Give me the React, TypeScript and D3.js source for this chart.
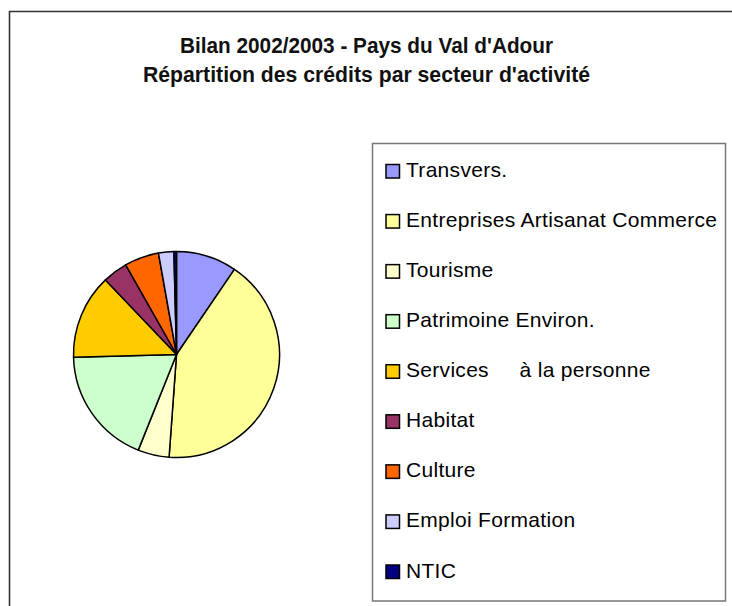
import React from "react";
import * as d3 from "d3";

const sectors = [
  "Transvers.",
  "Entreprises Artisanat Commerce",
  "Tourisme",
  "Patrimoine Environ.",
  "Services     à la personne",
  "Habitat",
  "Culture",
  "Emploi Formation",
  "NTIC",
];
const shares = [9.5, 41.6, 4.9, 18.5, 13.3, 3.9, 5.4, 2.4, 0.4];
const colors = [
  "#9999FF",
  "#FFFF99",
  "#FFFFCC",
  "#CCFFCC",
  "#FFCC00",
  "#993366",
  "#FF6600",
  "#CCCCFF",
  "#000080",
];
const titleLines = [
  "Bilan 2002/2003 - Pays du Val d'Adour",
  "Répartition des crédits par secteur d'activité",
];

const W = 732;
const H = 606;

export default function App() {
  const cx = 176.5;
  const cy = 354.5;
  const r = 103;

  const pie = d3
    .pie<number>()
    .value((d) => d)
    .sort(null);
  const arc = d3.arc<d3.PieArcDatum<number>>().innerRadius(0).outerRadius(r);
  const arcs = pie(shares);

  const rowY = d3
    .scalePoint<number>()
    .domain(d3.range(sectors.length))
    .range([171.5, 572]);

  return (
    <svg
      width={W}
      height={H}
      style={{ position: "absolute", left: 0, top: 0, background: "#fff" }}
      fontFamily="'Liberation Sans', Arial, sans-serif"
    >
      <rect x={0} y={0} width={W} height={H} fill="#fff" />
      {/* outer chart frame, cropped at right and bottom */}
      <path d={`M9.5,${H} V11.5 H${W}`} fill="none" stroke="#333" strokeWidth={1.6} />

      {titleLines.map((t, i) => (
        <text
          key={i}
          x={366.5}
          y={53 + i * 29}
          textAnchor="middle"
          fontSize={22}
          fontWeight="bold"
          fill="#111"
          textLength={i === 0 ? 373 : 447}
          lengthAdjust="spacingAndGlyphs"
        >
          {t}
        </text>
      ))}

      <g transform={`translate(${cx},${cy})`}>
        {arcs.map((a, i) => (
          <path
            key={i}
            d={arc(a) || ""}
            fill={colors[i]}
            stroke="#000"
            strokeWidth={1.5}
            strokeLinejoin="round"
          />
        ))}
      </g>

      <rect
        x={372.5}
        y={143.5}
        width={353}
        height={457.5}
        fill="#fff"
        stroke="#777"
        strokeWidth={1.5}
      />
      {sectors.map((s, i) => (
        <g key={s} transform={`translate(0,${rowY(i)})`}>
          <rect x={386} y={-7} width={13.5} height={13.5} fill={colors[i]} stroke="#000" strokeWidth={1.5} />
          <text
            x={406}
            y={5.5}
            fontSize={21}
            letterSpacing={0.3}
            fill="#000"
            style={{ whiteSpace: "pre" }}
          >
            {s}
          </text>
        </g>
      ))}
    </svg>
  );
}
